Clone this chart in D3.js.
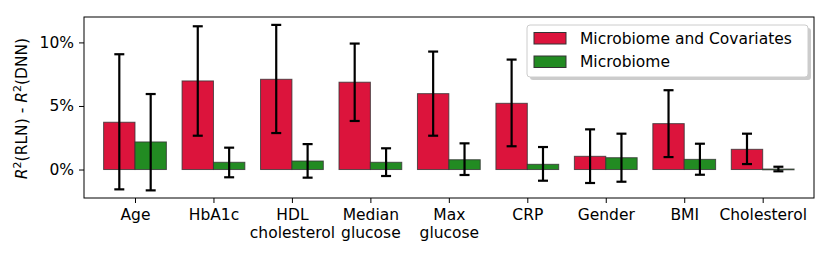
<!DOCTYPE html>
<html>
<head>
<meta charset="utf-8">
<script src="https://cdn.jsdelivr.net/npm/d3@7"></script>
<style>
  body { margin: 0; background: #fff; }
  text { font-family: "DejaVu Sans", sans-serif; }
</style>
</head>
<body>
<svg id="chart" width="831" height="255"></svg>
<script>
// values in percent
const categories = ["Age", "HbA1c", "HDL\ncholesterol", "Median\nglucose", "Max\nglucose", "CRP", "Gender", "BMI", "Cholesterol"]
const covValues = [3.72, 6.97, 7.10, 6.87, 5.97, 5.21, 1.04, 3.61, 1.59]
const covLow    = [-1.56, 2.66, 2.87, 3.82, 2.66, 1.83, -1.06, 0.98, 0.43]
const covHigh   = [9.07, 11.27, 11.38, 9.91, 9.28, 8.65, 3.16, 6.24, 2.82]
const micValues = [2.17, 0.57, 0.67, 0.57, 0.77, 0.41, 0.93, 0.80, 0.04]
const micLow    = [-1.64, -0.61, -0.64, -0.51, -0.43, -0.88, -0.96, -0.41, -0.14]
const micHigh   = [5.94, 1.72, 2.00, 1.67, 2.06, 1.77, 2.82, 2.03, 0.22]
const yTicks = [0, 5, 10]
const seriesNames = ["Microbiome and Covariates", "Microbiome"]
const seriesColors = ["#dc143c", "#228b22"]

const svg = d3.select("#chart")
const margin = {left: 84, right: 17, top: 17, bottom: 57}
const W = 831, H = 255

const x = d3.scaleLinear().domain([-0.65, 8.654]).range([margin.left, W - margin.right])
const y = d3.scaleLinear().domain([-2.24, 12.0]).range([H - margin.bottom, margin.top])
const barW = x(0.4) - x(0)

const series = [
  {name: seriesNames[0], color: seriesColors[0], vals: covValues, lo: covLow, hi: covHigh, off: -0.2},
  {name: seriesNames[1], color: seriesColors[1], vals: micValues, lo: micLow, hi: micHigh, off: 0.2}
]

// bars
series.forEach(s => {
  svg.append("g").selectAll("rect")
    .data(s.vals)
    .enter().append("rect")
      .attr("x", (d, i) => x(i + s.off) - barW / 2)
      .attr("width", barW)
      .attr("y", d => Math.min(y(d), y(0)))
      .attr("height", d => Math.max(Math.abs(y(d) - y(0)), 0.8))
      .attr("fill", s.color)
      .attr("stroke", "#333")
      .attr("stroke-opacity", 0.8)
      .attr("stroke-width", 1)
})

// error bars
series.forEach(s => {
  const g = svg.append("g").attr("stroke", "#000").attr("stroke-width", 2.2)
  s.vals.forEach((v, i) => {
    const cx = x(i + s.off)
    g.append("line").attr("x1", cx).attr("x2", cx).attr("y1", y(s.lo[i])).attr("y2", y(s.hi[i]))
    g.append("line").attr("x1", cx - 5).attr("x2", cx + 5).attr("y1", y(s.lo[i])).attr("y2", y(s.lo[i]))
    g.append("line").attr("x1", cx - 5).attr("x2", cx + 5).attr("y1", y(s.hi[i])).attr("y2", y(s.hi[i]))
  })
})

// frame
svg.append("rect")
  .attr("x", margin.left).attr("y", margin.top)
  .attr("width", W - margin.left - margin.right)
  .attr("height", H - margin.top - margin.bottom)
  .attr("fill", "none").attr("stroke", "#000").attr("stroke-width", 1)

// y axis
const yAxis = d3.axisLeft(y).tickValues(yTicks).tickFormat(d => d + "%").tickSize(5).tickPadding(5)
const yg = svg.append("g").attr("transform", `translate(${margin.left},0)`).call(yAxis)
yg.select(".domain").remove()
yg.selectAll("text").attr("font-size", "15.5px").attr("fill", "#000")
yg.selectAll("line").attr("stroke", "#000")

// x axis
const xAxis = d3.axisBottom(x).tickValues(d3.range(categories.length)).tickFormat("").tickSize(5)
const xg = svg.append("g").attr("transform", `translate(0,${H - margin.bottom})`).call(xAxis)
xg.select(".domain").remove()
xg.selectAll("line").attr("stroke", "#000")
xg.selectAll(".tick").each(function(d) {
  const lines = categories[d].split("\n")
  const t = d3.select(this).append("text")
    .attr("fill", "#000").attr("font-size", "15.5px").attr("text-anchor", "middle")
  lines.forEach((l, k) => {
    t.append("tspan").attr("x", 0).attr("y", 22 + k * 18).text(l)
  })
})

// y label
const ylab = svg.append("text")
  .attr("transform", `translate(27,${(margin.top + H - margin.bottom) / 2 + 1}) rotate(-90)`)
  .attr("text-anchor", "middle")
  .attr("font-size", "15.5px")
  .attr("fill", "#000")
ylab.append("tspan").attr("font-style", "italic").text("R")
ylab.append("tspan").attr("baseline-shift", "super").attr("font-size", "11px").text("2")
ylab.append("tspan").text("(RLN) - ")
ylab.append("tspan").attr("font-style", "italic").text("R")
ylab.append("tspan").attr("baseline-shift", "super").attr("font-size", "11px").text("2")
ylab.append("tspan").text("(DNN)")

// legend
const lg = svg.append("g").attr("transform", "translate(527,25)")
lg.append("rect").attr("x", 3).attr("y", 3).attr("width", 281).attr("height", 52)
  .attr("rx", 3).attr("fill", "#999").attr("opacity", 0.5)
lg.append("rect").attr("x", 0).attr("y", 0).attr("width", 281).attr("height", 52)
  .attr("rx", 3).attr("fill", "#fff").attr("stroke", "#ccc").attr("stroke-width", 1)
series.forEach((s, k) => {
  lg.append("rect").attr("x", 7).attr("y", 7.5 + k * 23.5).attr("width", 32).attr("height", 11.5)
    .attr("fill", s.color).attr("stroke", "#333").attr("stroke-width", 1)
  lg.append("text").attr("x", 53).attr("y", 18.5 + k * 23.5)
    .attr("font-size", "15.5px").attr("fill", "#000").text(s.name)
})
</script>
</body>
</html>
